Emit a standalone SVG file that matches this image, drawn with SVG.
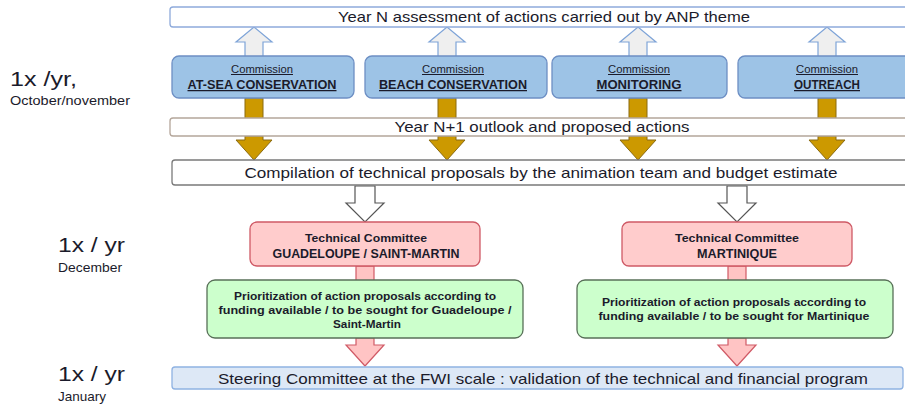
<svg xmlns="http://www.w3.org/2000/svg" width="905" height="407" viewBox="0 0 905 407">
<style>
text{font-family:"Liberation Sans",Arial,sans-serif;fill:#1b1b2b;text-anchor:middle}
.bar{font-size:15px}
.lbl{font-family:"Liberation Sans",Arial,sans-serif;text-anchor:start;fill:#1b1b2b}
.big{font-size:21px}
.small{font-size:13px}
.com1{font-size:10px;text-decoration:underline}
.com2{font-size:12.5px;font-weight:bold;text-decoration:underline}
.tc{font-size:11px;font-weight:bold}
.tc2{font-size:12px;font-weight:bold}
.gr{font-size:11px;font-weight:bold}
.up{fill:#efefef;stroke:#7ea4d8;stroke-width:1.2}
.gold{fill:#cc9900;stroke:#8a6a10;stroke-width:1}
.hollow{fill:#ffffff;stroke:#555;stroke-width:1.2}
.pink{fill:#ffc4c4;stroke:#d05a66;stroke-width:1.2}
.comm{fill:#9dc3e6;stroke:#6d8fc4;stroke-width:1.3}
.tcb{fill:#ffcccc;stroke:#cf5a66;stroke-width:1.3}
.grb{fill:#ccffcc;stroke:#587058;stroke-width:1.3}
</style>
<g id="connectors">
  <path class="up" d="M245,57 V42 H236 L254,27 L272,42 H263 V57 Z"/>
  <path class="up" d="M438,57 V42 H429 L447,27 L465,42 H456 V57 Z"/>
  <path class="up" d="M629,57 V42 H620 L638,27 L656,42 H647 V57 Z"/>
  <path class="up" d="M818,57 V42 H809 L827,27 L845,42 H836 V57 Z"/>
  <rect class="gold" x="245" y="98" width="18" height="21"/>
  <rect class="gold" x="438" y="98" width="18" height="21"/>
  <rect class="gold" x="629" y="98" width="18" height="21"/>
  <rect class="gold" x="818" y="98" width="18" height="21"/>
  <path class="gold" d="M245,136 V140 H236 L254,160 L272,140 H263 V136 Z"/>
  <path class="gold" d="M438,136 V140 H429 L447,160 L465,140 H456 V136 Z"/>
  <path class="gold" d="M629,136 V140 H620 L638,160 L656,140 H647 V136 Z"/>
  <path class="gold" d="M818,136 V140 H809 L827,160 L845,140 H836 V136 Z"/>
  <path class="hollow" d="M355,186 V203 H346 L365,222 L384,203 H375 V186 Z"/>
  <path class="hollow" d="M727,186 V203 H718 L737,222 L756,203 H747 V186 Z"/>
  <rect class="pink" x="356" y="266" width="18" height="15"/>
  <rect class="pink" x="728" y="266" width="18" height="15"/>
  <path class="pink" d="M356,338 V345 H346 L365,366 L384,345 H374 V338 Z"/>
  <path class="pink" d="M728,338 V345 H718 L737,366 L756,345 H746 V338 Z"/>
</g>
<g id="top-bar">
  <rect x="170" y="7" width="745" height="20" rx="3" fill="#fff" stroke="#8eaadb" stroke-width="1.3"/>
  <text class="bar" x="544" y="22" textLength="412" lengthAdjust="spacingAndGlyphs">Year N assessment of actions carried out by ANP theme</text>
</g>
<g id="commission-1">
  <rect class="comm" x="172" y="56" width="182" height="42" rx="7" stroke="#4f6fa8"/>
  <text class="com1" x="262" y="73" textLength="62" lengthAdjust="spacingAndGlyphs">Commission</text>
  <text class="com2" x="262" y="89" textLength="149" lengthAdjust="spacingAndGlyphs">AT-SEA CONSERVATION</text>
</g>
<g id="commission-2">
  <rect class="comm" x="365" y="56" width="182" height="42" rx="7"/>
  <text class="com1" x="453" y="73" textLength="62" lengthAdjust="spacingAndGlyphs">Commission</text>
  <text class="com2" x="453" y="89" textLength="148" lengthAdjust="spacingAndGlyphs">BEACH CONSERVATION</text>
</g>
<g id="commission-3">
  <rect class="comm" x="552" y="56" width="175" height="42" rx="7"/>
  <text class="com1" x="639" y="73" textLength="62" lengthAdjust="spacingAndGlyphs">Commission</text>
  <text class="com2" x="639" y="89" textLength="85" lengthAdjust="spacingAndGlyphs">MONITORING</text>
</g>
<g id="commission-4">
  <rect class="comm" x="738" y="56" width="180" height="42" rx="7"/>
  <text class="com1" x="827" y="73" textLength="62" lengthAdjust="spacingAndGlyphs">Commission</text>
  <text class="com2" x="827" y="89" textLength="66" lengthAdjust="spacingAndGlyphs">OUTREACH</text>
</g>
<g id="outlook-bar">
  <rect x="170" y="118" width="745" height="18" rx="3" fill="#fff" stroke="#b4a69a" stroke-width="1.3"/>
  <text class="bar" x="542" y="132" textLength="295" lengthAdjust="spacingAndGlyphs">Year N+1 outlook and proposed actions</text>
</g>
<g id="compilation-bar">
  <rect x="172" y="160" width="743" height="25" rx="3" fill="#fff" stroke="#7a7a7a" stroke-width="1.3"/>
  <text class="bar" x="541" y="178" textLength="593" lengthAdjust="spacingAndGlyphs">Compilation of technical proposals by the animation team and budget estimate</text>
</g>
<g id="tech-guadeloupe">
  <rect class="tcb" x="250" y="222" width="230" height="44" rx="7"/>
  <text class="tc" x="366" y="242" textLength="122" lengthAdjust="spacingAndGlyphs">Technical Committee</text>
  <text class="tc2" x="366" y="258" textLength="187" lengthAdjust="spacingAndGlyphs">GUADELOUPE / SAINT-MARTIN</text>
</g>
<g id="tech-martinique">
  <rect class="tcb" x="622" y="222" width="230" height="44" rx="7"/>
  <text class="tc" x="737" y="242" textLength="124" lengthAdjust="spacingAndGlyphs">Technical Committee</text>
  <text class="tc2" x="737" y="258" textLength="80" lengthAdjust="spacingAndGlyphs">MARTINIQUE</text>
</g>
<g id="prio-guadeloupe">
  <rect class="grb" x="207" y="280" width="316" height="58" rx="8"/>
  <text class="gr" x="365" y="300" textLength="262" lengthAdjust="spacingAndGlyphs">Prioritization of action proposals according to</text>
  <text class="gr" x="365" y="314" textLength="293" lengthAdjust="spacingAndGlyphs">funding available / to be sought for Guadeloupe /</text>
  <text class="gr" x="367" y="328" textLength="68" lengthAdjust="spacingAndGlyphs">Saint-Martin</text>
</g>
<g id="prio-martinique">
  <rect class="grb" x="577" y="280" width="316" height="58" rx="8"/>
  <text class="gr" x="734" y="306" textLength="264" lengthAdjust="spacingAndGlyphs">Prioritization of action proposals according to</text>
  <text class="gr" x="734" y="320" textLength="271" lengthAdjust="spacingAndGlyphs">funding available / to be sought for Martinique</text>
</g>
<g id="steering-bar">
  <rect x="172" y="367" width="731" height="22" rx="3" fill="#dde8f6" stroke="#8fb2e2" stroke-width="1.3"/>
  <text class="bar" x="543" y="384" textLength="650" lengthAdjust="spacingAndGlyphs">Steering Committee at the FWI scale : validation of the technical and financial program</text>
</g>
<g id="labels">
  <text class="lbl big" x="10" y="86" textLength="67" lengthAdjust="spacingAndGlyphs">1x /yr,</text>
  <text class="lbl small" x="10" y="105" textLength="120" lengthAdjust="spacingAndGlyphs">October/november</text>
  <text class="lbl big" x="58" y="252" textLength="67" lengthAdjust="spacingAndGlyphs">1x / yr</text>
  <text class="lbl small" x="58" y="272" textLength="64" lengthAdjust="spacingAndGlyphs">December</text>
  <text class="lbl big" x="58" y="381" textLength="67" lengthAdjust="spacingAndGlyphs">1x / yr</text>
  <text class="lbl small" x="58" y="401" textLength="48" lengthAdjust="spacingAndGlyphs">January</text>
</g>
</svg>
